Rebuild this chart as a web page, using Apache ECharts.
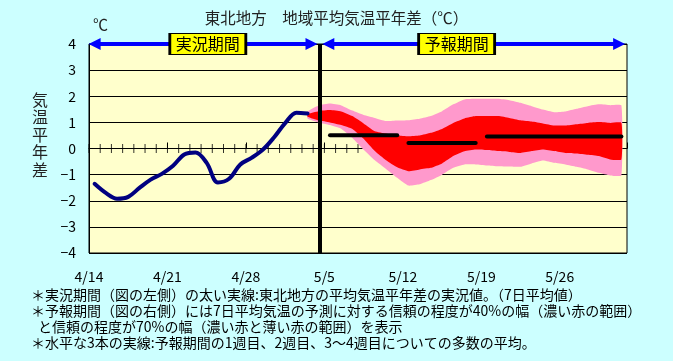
<!DOCTYPE html>
<html>
<head>
<meta charset="utf-8">
<script src="https://cdn.jsdelivr.net/npm/echarts@6/dist/echarts.min.js"></script>
<style>
html,body{margin:0;padding:0;background:#CCFFFF;}
#chart{width:673px;height:361px;}
</style>
</head>
<body>
<div id="chart"></div>
<script>
// ---- data ----
const tickLabels = ['4/14','4/21','4/28','5/5','5/12','5/19','5/26'];
// observed 7-day mean anomaly, daily from 4/14 (day 0) to 5/3 (day 19)
const obsDays = [0,1,2,3,4,5,6,7,8,9,10,11,12,13,14,15,16,17,18,19];
const obsValues = [-1.35,-1.70,-1.92,-1.85,-1.51,-1.19,-0.97,-0.66,-0.23,-0.15,-0.55,-1.30,-1.16,-0.61,-0.36,-0.05,0.42,0.97,1.37,1.34];
// forecast bands, daily from day 19 to day 47
const bandDays = [19,20,21,22,23,24,25,26,27,28,29,30,31,32,33,34,35,36,37,38,39,40,41,42,43,44,45,46,47];
const pinkHigh = [1.42,1.65,1.72,1.65,1.45,1.28,1.17,1.05,1.07,1.08,1.14,1.24,1.43,1.69,1.88,1.90,1.90,1.90,1.85,1.75,1.62,1.49,1.39,1.42,1.52,1.62,1.69,1.66,1.65];
const redHigh  = [1.32,1.43,1.47,1.42,1.24,0.96,0.66,0.57,0.50,0.47,0.50,0.60,0.75,0.98,1.15,1.24,1.24,1.24,1.17,1.08,1.03,0.96,0.88,0.88,0.93,0.98,1.01,0.98,0.98];
const redLow   = [1.22,1.08,1.00,0.90,0.75,0.37,-0.10,-0.45,-0.72,-0.87,-0.80,-0.74,-0.57,-0.29,-0.11,-0.04,-0.06,-0.10,-0.13,-0.17,-0.10,-0.04,-0.10,-0.17,-0.19,-0.24,-0.29,-0.42,-0.42];
const pinkLow  = [1.15,1.00,0.90,0.76,0.40,-0.05,-0.45,-0.78,-1.12,-1.42,-1.37,-1.21,-1.00,-0.74,-0.61,-0.61,-0.65,-0.68,-0.69,-0.70,-0.57,-0.46,-0.55,-0.61,-0.70,-0.80,-0.93,-1.03,-1.03];
// weekly means: [firstDay, lastDay, value]
const weekMeans = [[21,27,0.51],[28,34,0.21],[35,47,0.46]];
const zeroTickDays = [0,1,2,3,4,5,6,7,8,9,10,11,12,13,14,15,16,17,18,19,20,21,22,23,24];
const boundaryDay = 20.6;
const periodLabels = [{name:'実況期間', day:10.6}, {name:'予報期間', day:32.8}];

const FONT = '"Noto Sans CJK JP", "Noto Sans", sans-serif';
const pt = (d, v) => [d + 0.5, v];

function bandSeries(low, high, color, z) {
  return {
    type: 'custom', z: z, silent: true, clip: true,
    data: bandDays.map((d, i) => [d + 0.5, low[i], high[i]]),
    encode: {x: 0, y: [1, 2]},
    renderItem: function (params, api) {
      if (params.dataIndex !== 0) return null;
      const upper = bandDays.map((d, i) => api.coord([d + 0.5, high[i]]));
      const lower = bandDays.map((d, i) => api.coord([d + 0.5, low[i]])).reverse();
      return {
        type: 'polygon',
        shape: {points: upper.concat(lower), smooth: 0.15},
        style: {fill: color, stroke: null}
      };
    }
  };
}

const chart = echarts.init(document.getElementById('chart'));
chart.setOption({
  animation: false,
  backgroundColor: '#CCFFFF',
  textStyle: {fontFamily: FONT},
  grid: {left: 89, top: 44, width: 538, height: 209, show: true,
         backgroundColor: '#FFFFCC', borderColor: '#000', borderWidth: 1},
  xAxis: {
    type: 'value', min: 0, max: 48, interval: 7,
    axisLine: {show: true, lineStyle: {color: '#000', width: 1}},
    axisTick: {show: true, inside: true, length: 6, lineStyle: {color: '#000'}},
    splitLine: {show: false},
    axisLabel: {color: '#000', fontSize: 14, margin: 17, fontFamily: FONT,
      formatter: v => (v % 7 === 0 && tickLabels[v/7]) ? tickLabels[v/7] : ''}
  },
  yAxis: {
    type: 'value', min: -4, max: 4, interval: 1,
    axisLine: {show: true, lineStyle: {color: '#000'}},
    axisTick: {show: false},
    splitLine: {show: true, lineStyle: {color: '#000', width: 1}},
    axisLabel: {color: '#000', fontSize: 14, margin: 13, fontFamily: FONT,
      formatter: v => String(v).replace('-', '\u2212')}
  },
  title: [
    {text: '東北地方　地域平均気温平年差（℃）', left: 'center', top: 5,
     textStyle: {fontSize: 15.5, fontWeight: 'normal', color: '#222', fontFamily: FONT}},
    {text: '℃', left: 88, top: 12,
     textStyle: {fontSize: 15, fontWeight: 'normal', color: '#222', fontFamily: FONT}},
    {text: '気\n温\n平\n年\n差', left: 27, top: 86,
     textStyle: {fontSize: 16, lineHeight: 17.5, fontWeight: 'normal', color: '#222', fontFamily: FONT}}
  ],
  graphic: [
    {type: 'text', left: 31, top: 288, style: {text: '＊実況期間（図の左側）の太い実線:東北地方の平均気温平年差の実況値。（7日平均値）', fill: '#000', font: '14px ' + FONT}},
    {type: 'text', left: 31, top: 304, style: {text: '＊予報期間（図の右側）には7日平均気温の予測に対する信頼の程度が40%の幅（濃い赤の範囲）', fill: '#000', font: '14px ' + FONT}},
    {type: 'text', left: 38, top: 320, style: {text: 'と信頼の程度が70%の幅（濃い赤と薄い赤の範囲）を表示', fill: '#000', font: '14px ' + FONT}},
    {type: 'text', left: 31, top: 336, style: {text: '＊水平な3本の実線:予報期間の1週目、2週目、3〜4週目についての多数の平均。', fill: '#000', font: '14px ' + FONT}}
  ],
  series: [
    bandSeries(pinkLow, pinkHigh, '#FF99CC', 2),
    bandSeries(redLow, redHigh, '#FF0000', 3),
    {
      type: 'scatter', symbol: 'rect', symbolSize: [1, 9], silent: true, z: 1,
      itemStyle: {color: '#000'},
      data: zeroTickDays.map(d => [d, 0])
    },
    {
      type: 'line', symbol: 'none', smooth: 0.35, z: 4, silent: true,
      data: obsDays.map((d,i)=>pt(d, obsValues[i])),
      lineStyle: {color: '#000080', width: 4, cap: 'round', join: 'round'}
    },
    ...weekMeans.map(w => ({
      type: 'line', symbol: 'none', z: 5, silent: true,
      data: [pt(w[0], w[2]), pt(w[1], w[2])],
      lineStyle: {color: '#000', width: 4, cap: 'round'}
    })),
    {
      type: 'line', data: [], z: 6, silent: true,
      markLine: {
        silent: true, animation: false, symbol: 'none', label: {show: false},
        data: [
          {xAxis: boundaryDay, lineStyle: {color: '#000', width: 4, type: 'solid'}},
          [{coord: [0.5, 4], symbol: 'triangle'}, {coord: [boundaryDay - 0.75, 4], symbol: 'triangle'}],
          [{coord: [boundaryDay + 0.75, 4], symbol: 'triangle'}, {coord: [47.3, 4], symbol: 'triangle'}]
        ],
        symbolSize: [12, 12],
        lineStyle: {color: '#0000FF', width: 4, type: 'solid'}
      },
      markPoint: {
        silent: true, animation: false,
        symbol: 'rect', symbolSize: [76, 21],
        itemStyle: {color: '#FFFF00', borderColor: '#000', borderWidth: 1.5},
        label: {show: true, position: 'inside', color: '#000', fontSize: 16, fontFamily: FONT,
                formatter: p => p.name},
        data: periodLabels.map(p => ({name: p.name, coord: [p.day, 4]}))
      }
    }
  ]
});
</script>
</body>
</html>
